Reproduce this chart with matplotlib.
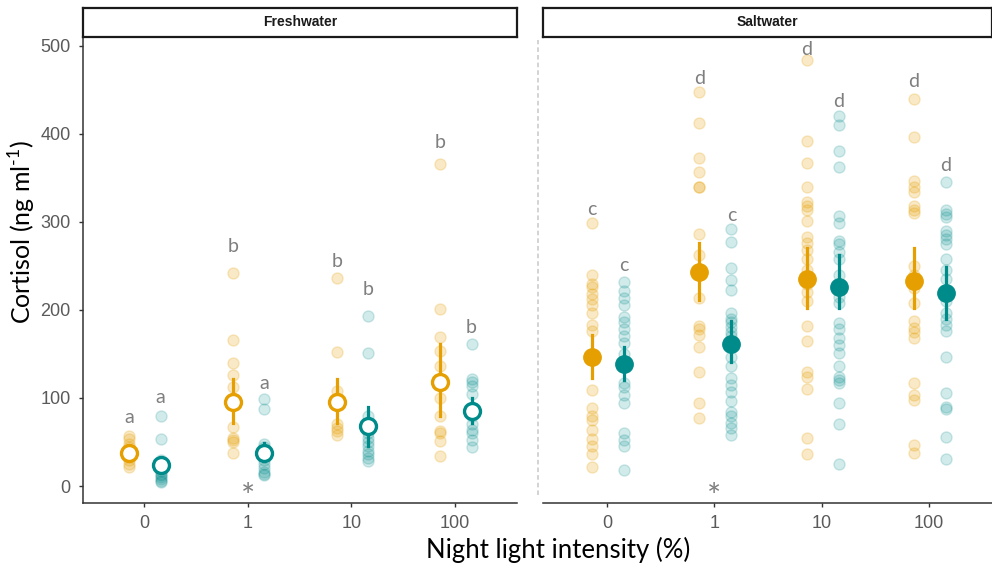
import matplotlib
matplotlib.use("Agg")
import matplotlib.pyplot as plt
from matplotlib.lines import Line2D

plt.rcParams["font.family"] = ["Liberation Sans", "DejaVu Sans"]
plt.rcParams["axes.unicode_minus"] = False
plt.rcParams["mathtext.fontset"] = "custom"
plt.rcParams["mathtext.rm"] = "Lato"

# Farben (orange = Gruppe 1, petrol = Gruppe 2)
ORANGE = "#E69F00"
TEAL = "#008B8B"
GREY = "#7F7F7F"

categories = ["0", "1", "10", "100"]
panels = ["Freshwater", "Saltwater"]

# Einzelwerte
fw_orange_pts = [
    [57, 53, 48, 44, 40, 36, 33, 29, 25, 22],
    [242, 166, 140, 126, 113, 100, 67, 55, 52, 50, 38],
    [236, 152, 108, 100, 70, 66, 62, 58],
    [366, 201, 169, 153, 136, 100, 79, 62, 60, 51, 34],
]
fw_teal_pts = [
    [79, 53, 30, 24, 20, 17, 14, 12, 10, 8, 6, 4],
    [99, 88, 48, 44, 40, 35, 30, 25, 20, 16, 14, 12],
    [193, 151, 80, 72, 60, 55, 50, 45, 40, 36, 32, 28],
    [161, 122, 118, 114, 105, 90, 80, 70, 64, 60, 52, 44],
]
sw_orange_pts = [
    [299, 240, 230, 226, 218, 212, 206, 197, 183, 176, 150, 109, 89, 80, 75, 64, 53, 45, 36, 22],
    [447, 412, 373, 357, 340, 340, 286, 262, 213, 182, 178, 172, 158, 130, 94, 77],
    [484, 392, 367, 340, 323, 318, 314, 301, 283, 276, 268, 258, 245, 230, 220, 210,
     182, 165, 130, 124, 110, 55, 36],
    [440, 396, 346, 340, 334, 318, 313, 310, 250, 240, 225, 208, 187, 180, 175, 168,
     117, 103, 98, 47, 38],
]
sw_teal_pts = [
    [232, 222, 214, 206, 192, 186, 178, 170, 162, 150, 140, 117, 113, 103, 94, 60, 52, 45, 18],
    [292, 277, 248, 234, 223, 196, 190, 186, 181, 175, 170, 147, 136, 123, 115, 107, 96,
     84, 79, 71, 66, 58],
    [420, 410, 381, 362, 307, 299, 278, 275, 266, 258, 240, 215, 208, 185, 178, 168, 160,
     151, 136, 124, 120, 117, 94, 70, 25],
    [345, 314, 309, 305, 290, 285, 280, 275, 258, 245, 235, 210, 196, 190, 183, 176, 147,
     106, 90, 87, 56, 31],
]

# Mittelwerte und Fehlerbalken (unten, oben)
fw_orange_mean = [37, 95, 95, 118]
fw_orange_lo = [30, 71, 71, 79]
fw_orange_hi = [44, 121, 121, 161]
fw_teal_mean = [24, 37, 68, 85]
fw_teal_lo = [18, 28, 46, 71]
fw_teal_hi = [30, 49, 90, 100]

sw_orange_mean = [147, 243, 235, 233]
sw_orange_lo = [123, 211, 202, 202]
sw_orange_hi = [172, 276, 270, 270]
sw_teal_mean = [139, 161, 226, 219]
sw_teal_lo = [120, 141, 202, 190]
sw_teal_hi = [158, 187, 262, 249]

# Buchstaben (Signifikanzgruppen) und ihre Höhe
fw_orange_letters = ["a", "b", "b", "b"]
fw_orange_letter_y = [78, 272, 255, 390]
fw_teal_letters = ["a", "a", "b", "b"]
fw_teal_letter_y = [100, 116, 223, 180]
sw_orange_letters = ["c", "d", "d", "d"]
sw_orange_letter_y = [314, 463, 496, 459]
sw_teal_letters = ["c", "c", "d", "d"]
sw_teal_letter_y = [250, 307, 437, 364]

star_cat = 1
star_y = -14

fig = plt.figure(figsize=(9.92, 5.7), dpi=100)

W, H = 992, 570
def px_box(x0, y0, x1, y1):
    return [x0 / W, 1 - y1 / H, (x1 - x0) / W, (y1 - y0) / H]

ax_fw = fig.add_axes(px_box(83, 37, 517, 503))
ax_sw = fig.add_axes(px_box(543, 37, 992, 503))
strip_fw = fig.add_axes(px_box(83, 8, 517, 37))
strip_sw = fig.add_axes(px_box(543, 8, 992, 37))

OFF_O, OFF_T = -0.14, 0.16

def draw_panel(ax, o_pts, t_pts, o_m, o_lo, o_hi, t_m, t_lo, t_hi,
               o_let, o_let_y, t_let, t_let_y, hollow):
    for i in range(len(categories)):
        xo = i + OFF_O
        xt = i + OFF_T
        ax.plot([xo] * len(o_pts[i]), o_pts[i], "o", ms=8, color=ORANGE,
                alpha=0.22, mec=ORANGE, zorder=2)
        ax.plot([xt] * len(t_pts[i]), t_pts[i], "o", ms=8, color=TEAL,
                alpha=0.18, mec=TEAL, zorder=2)
        ax.plot([xo, xo], [o_lo[i], o_hi[i]], color=ORANGE, lw=2.3, zorder=3)
        ax.plot([xt, xt], [t_lo[i], t_hi[i]], color=TEAL, lw=2.3, zorder=3)
        if hollow:
            ax.plot(xo, o_m[i], "o", ms=11.5, mfc="white", mec=ORANGE, mew=2.4, zorder=4)
            ax.plot(xt, t_m[i], "o", ms=11.5, mfc="white", mec=TEAL, mew=2.4, zorder=4)
        else:
            ax.plot(xo, o_m[i], "o", ms=12.5, color=ORANGE, zorder=4)
            ax.plot(xt, t_m[i], "o", ms=12.5, color=TEAL, zorder=4)
        ax.text(xo, o_let_y[i], o_let[i], ha="center", va="center",
                color=GREY, fontsize=14, family="Lato")
        ax.text(xt, t_let_y[i], t_let[i], ha="center", va="center",
                color=GREY, fontsize=14, family="Lato")
    ax.text(star_cat, star_y, "*", ha="center", va="center", color=GREY,
            fontsize=24, family="Lato")
    ax.set_ylim(-19.3, 510)
    ax.set_xticks(range(len(categories)))
    ax.set_xticklabels(categories)
    for s in ["top", "right"]:
        ax.spines[s].set_visible(False)
    ax.spines["bottom"].set_color("#333333")
    ax.spines["left"].set_color("#333333")
    ax.spines["bottom"].set_linewidth(1.1)
    ax.spines["left"].set_linewidth(1.1)
    ax.tick_params(colors="#333333", labelcolor="#5A5A5A", labelsize=13, length=3,
                   width=1, pad=6)

draw_panel(ax_fw, fw_orange_pts, fw_teal_pts, fw_orange_mean, fw_orange_lo, fw_orange_hi,
           fw_teal_mean, fw_teal_lo, fw_teal_hi, fw_orange_letters, fw_orange_letter_y,
           fw_teal_letters, fw_teal_letter_y, hollow=True)
draw_panel(ax_sw, sw_orange_pts, sw_teal_pts, sw_orange_mean, sw_orange_lo, sw_orange_hi,
           sw_teal_mean, sw_teal_lo, sw_teal_hi, sw_orange_letters, sw_orange_letter_y,
           sw_teal_letters, sw_teal_letter_y, hollow=False)

ax_fw.set_xlim(-0.588, 3.598)
ax_sw.set_xlim(-0.596, 3.588)
ax_fw.set_yticks([0, 100, 200, 300, 400, 500])
ax_sw.set_yticks([])
ax_sw.spines["left"].set_visible(False)

# Facetten-Streifen oben
for strip, name in zip([strip_fw, strip_sw], panels):
    strip.set_xticks([])
    strip.set_yticks([])
    for s in strip.spines.values():
        s.set_linewidth(1.6)
        s.set_color("#1A1A1A")
    strip.text(0.5, 0.5, name, ha="center", va="center", fontsize=10,
               fontweight="bold", color="#1A1A1A", transform=strip.transAxes)

# gestrichelte Trennlinie zwischen den Panels
fig.add_artist(Line2D([538 / W, 538 / W], [1 - 495 / H, 1 - 40 / H], color="#C8C8C8",
                      lw=1.1, ls=(0, (3, 2))))

fig.text(22 / W, 1 - 232 / H, "Cortisol (ng ml$^{\\text{-1}}$)", rotation=90,
         ha="center", va="center", fontsize=18, family="Lato")
fig.text(558 / W, 1 - 550 / H, "Night light intensity (%)", ha="center", va="center",
         fontsize=18.5, family="Lato")

fig.savefig("out.png", dpi=100)
